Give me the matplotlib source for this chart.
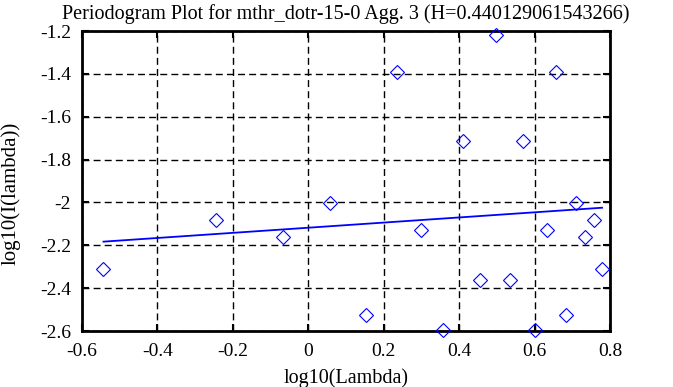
import numpy as np
import matplotlib
matplotlib.use("Agg")
import matplotlib.pyplot as plt

# periodogram points
log_lambda = [-0.543, -0.245, -0.068, 0.058, 0.153, 0.235, 0.299, 0.358, 0.409,
              0.456, 0.497, 0.536, 0.568, 0.600, 0.634, 0.658, 0.684, 0.711,
              0.733, 0.757, 0.779]
log_i = [-2.312, -2.082, -2.160, -2.004, -2.527, -1.390, -2.130, -2.595, -1.715,
         -2.362, -1.220, -2.362, -1.715, -2.595, -2.130, -1.390, -2.527, -2.004,
         -2.160, -2.082, -2.312]

H = 0.440129061543266
intercept = -2.118
slope = 1 - 2 * H

xticks = [-0.6, -0.4, -0.2, 0, 0.2, 0.4, 0.6, 0.8]
yticks = [-1.2, -1.4, -1.6, -1.8, -2, -2.2, -2.4, -2.6]

plt.rcParams['font.family'] = ['Liberation Serif', 'DejaVu Serif']
plt.rcParams['font.size'] = 14

fig = plt.figure(figsize=(6.73, 3.87), dpi=100)
ax = fig.add_axes([82 / 673, 1 - 331 / 387, 528 / 673, 300 / 387])

ax.plot(log_lambda, log_i, linestyle='none', marker='D', markersize=7,
        markerfacecolor='none', markeredgecolor='blue', markeredgewidth=0.8,
        clip_on=False, zorder=3)

fit_x = np.array([min(log_lambda), max(log_lambda)])
ax.plot(fit_x, intercept + slope * fit_x, color='blue', linewidth=1.3, zorder=3)

ax.set_xlim(-0.6, 0.8)
ax.set_ylim(-2.6, -1.2)
ax.set_xticks(xticks)
ax.set_xticklabels([f'{t:g}' for t in xticks])
ax.set_yticks(yticks)
ax.set_yticklabels([f'{t:g}' for t in yticks])

ax.grid(True, color='black', linewidth=1, linestyle=(0, (5, 3)))
ax.tick_params(direction='in', length=5, width=1.5, top=True, right=True,
               labelsize=14)
ax.tick_params(axis='x', pad=9)
ax.tick_params(axis='y', pad=8)
for s in ax.spines.values():
    s.set_linewidth(2)

ax.set_title('Periodogram Plot for mthr_dotr-15-0 Agg. 3 (H=0.440129061543266)',
             fontsize=14.5, pad=9)
ax.set_xlabel('log10(Lambda)', fontsize=14.5)
ax.set_ylabel('log10(I(lambda))', fontsize=15)
ax.xaxis.set_label_coords(0.5, -0.125)
ax.yaxis.set_label_coords(-0.117, 0.46)

fig.savefig('out.png', dpi=100, facecolor='white')
